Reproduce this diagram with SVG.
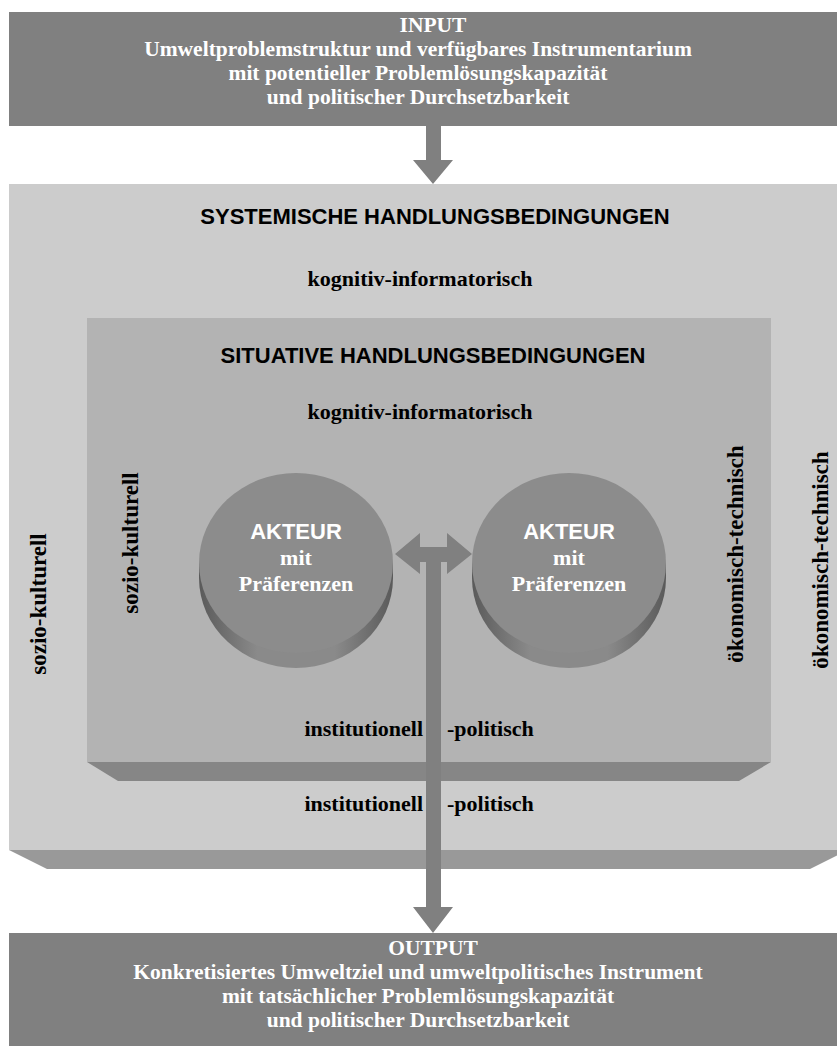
<svg xmlns="http://www.w3.org/2000/svg" width="837" height="1057" viewBox="0 0 837 1057">
<defs>
<style>
.serif{font-family:"Liberation Serif","Times New Roman",serif;font-weight:bold;font-size:22px}
.box{font-size:21.5px}
.sans{font-family:"Liberation Sans",Arial,sans-serif;font-weight:bold;font-size:22px}
.vert{font-size:23px}
.w{fill:#ffffff}
.k{fill:#000000}
.arrow{fill:#808080}
</style>
<linearGradient id="side" x1="0" y1="0" x2="1" y2="0">
<stop offset="0" stop-color="#5a5a5a"/>
<stop offset="0.3" stop-color="#8a8a8a"/>
<stop offset="0.7" stop-color="#8a8a8a"/>
<stop offset="1" stop-color="#5a5a5a"/>
</linearGradient>
</defs>
<rect width="837" height="1057" fill="#ffffff"/>

<g id="input">
<rect x="9" y="12" width="828" height="114" fill="#808080"/>
<text class="serif box w" text-anchor="middle" x="433" y="32">INPUT</text>
<text class="serif box w" text-anchor="middle" x="418" y="56">Umweltproblemstruktur und verfügbares Instrumentarium</text>
<text class="serif box w" text-anchor="middle" x="418" y="80">mit potentieller Problemlösungskapazität</text>
<text class="serif box w" text-anchor="middle" x="418" y="104">und politischer Durchsetzbarkeit</text>
</g>

<g id="systemisch">
<polygon points="9,850 848,850 810,869 47,869" fill="#999999"/>
<rect x="9" y="184" width="839" height="666" fill="#cccccc"/>
<text class="sans k" text-anchor="middle" x="435" y="224">SYSTEMISCHE HANDLUNGSBEDINGUNGEN</text>
<text class="serif k" text-anchor="middle" x="420" y="286">kognitiv-informatorisch</text>
<text class="serif vert k" text-anchor="middle" transform="translate(46,604) rotate(-90)">sozio-kulturell</text>
<text class="serif vert k" text-anchor="middle" transform="translate(828,560) rotate(-90)">ökonomisch-technisch</text>
<text class="serif k" text-anchor="end" x="423" y="811">institutionell</text>
<text class="serif k" x="447" y="811">-politisch</text>
</g>

<g id="situativ">
<polygon points="87,762 771,762 739,781 118,781" fill="#868686"/>
<rect x="87" y="318" width="684" height="444" fill="#b3b3b3"/>
<text class="sans k" text-anchor="middle" x="433" y="363">SITUATIVE HANDLUNGSBEDINGUNGEN</text>
<text class="serif k" text-anchor="middle" x="420" y="419">kognitiv-informatorisch</text>
<text class="serif vert k" text-anchor="middle" transform="translate(138,543) rotate(-90)">sozio-kulturell</text>
<text class="serif vert k" text-anchor="middle" transform="translate(743,554) rotate(-90)">ökonomisch-technisch</text>
<text class="serif k" text-anchor="end" x="423" y="736">institutionell</text>
<text class="serif k" x="447" y="736">-politisch</text>
</g>

<g id="akteur1">
<path d="M199,563 L199,578 A97,90 0 0 0 393,578 L393,563 Z" fill="url(#side)"/>
<ellipse cx="296" cy="563" rx="97" ry="90" fill="#8c8c8c"/>
<text class="sans w" text-anchor="middle" x="296" y="539">AKTEUR</text>
<text class="serif w" text-anchor="middle" x="296" y="565">mit</text>
<text class="serif w" text-anchor="middle" x="296" y="591">Präferenzen</text>
</g>

<g id="akteur2">
<path d="M472,563 L472,578 A97,90 0 0 0 666,578 L666,563 Z" fill="url(#side)"/>
<ellipse cx="569" cy="563" rx="97" ry="90" fill="#8c8c8c"/>
<text class="sans w" text-anchor="middle" x="569" y="539">AKTEUR</text>
<text class="serif w" text-anchor="middle" x="569" y="565">mit</text>
<text class="serif w" text-anchor="middle" x="569" y="591">Präferenzen</text>
</g>

<g id="output">
<rect x="9" y="933" width="828" height="113" fill="#808080"/>
<text class="serif box w" text-anchor="middle" x="433" y="955">OUTPUT</text>
<text class="serif box w" text-anchor="middle" x="418" y="979">Konkretisiertes Umweltziel und umweltpolitisches Instrument</text>
<text class="serif box w" text-anchor="middle" x="418" y="1003">mit tatsächlicher Problemlösungskapazität</text>
<text class="serif box w" text-anchor="middle" x="418" y="1027">und politischer Durchsetzbarkeit</text>
</g>

<g id="connectors">
<polygon class="arrow" points="426,126 441,126 441,160 453,160 433,184 413,160 426,160"/>
<polygon class="arrow" points="395,554 420,533 420,547 447,547 447,533 472,554 447,574 447,562 441,562 441,907 453,907 433,933 413,907 426,907 426,562 420,562 420,574"/>
</g>
</svg>
